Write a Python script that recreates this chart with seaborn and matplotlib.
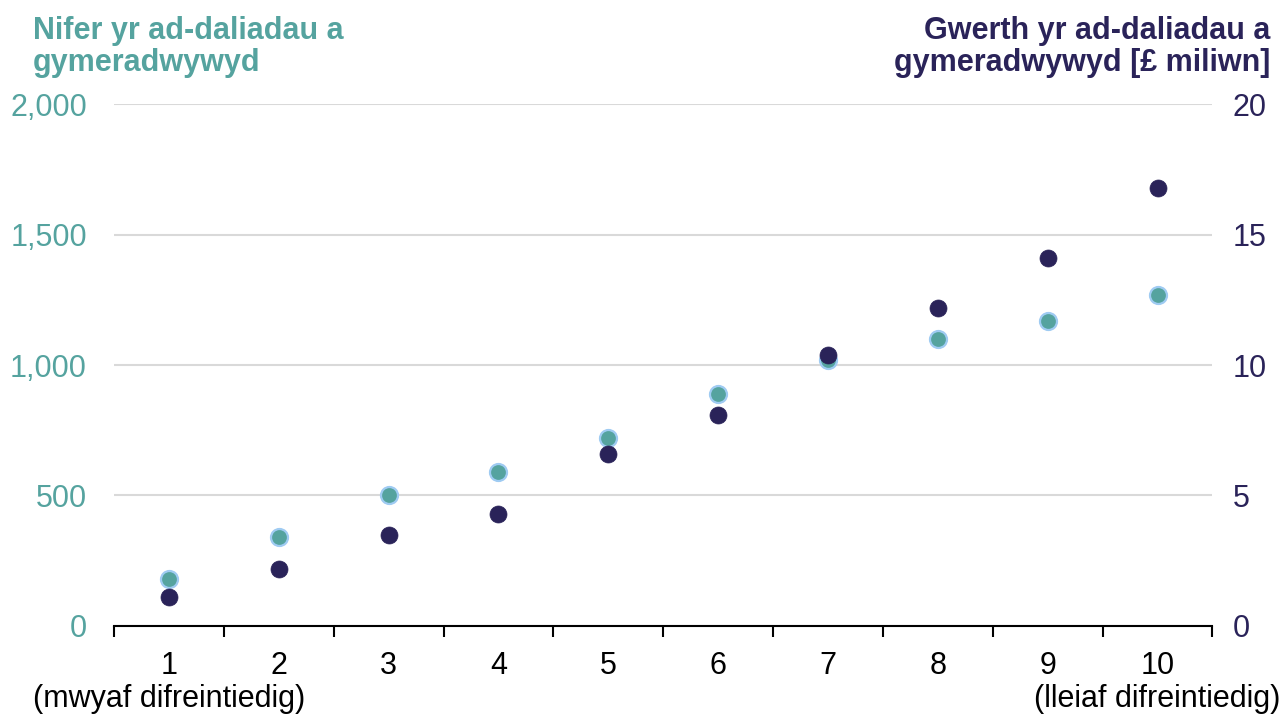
import numpy as np
import pandas as pd
import matplotlib
matplotlib.use("Agg")
import matplotlib.pyplot as plt
import seaborn as sns

# data
deciles = [1, 2, 3, 4, 5, 6, 7, 8, 9, 10]
nifer = [180, 340, 500, 590, 720, 890, 1020, 1100, 1170, 1270]
gwerth = [1.1, 2.2, 3.5, 4.3, 6.6, 8.1, 10.4, 12.2, 14.1, 16.8]
tick_labels = ["1", "2", "3", "4", "5", "6", "7", "8", "9", "10"]
end_notes = {1: "(mwyaf difreintiedig)", 10: "(lleiaf difreintiedig)"}

teal = "#55a39f"
navy = "#2a2359"
edge = "#9fcbf2"

sns.set_theme(style="white")
plt.rcParams["font.family"] = ["Liberation Sans", "DejaVu Sans"]

df = pd.DataFrame({"decile": deciles, "nifer": nifer, "gwerth": gwerth})

fig = plt.figure(figsize=(12.84, 7.15), dpi=100)
ax = fig.add_axes([0.0888, 0.1245, 0.8555, 0.73])
ax2 = ax.twinx()

sns.scatterplot(data=df, x="decile", y="nifer", ax=ax, s=150, color=teal,
                edgecolor=edge, linewidth=1.6, zorder=3)
sns.scatterplot(data=df, x="decile", y="gwerth", ax=ax2, s=150, color=navy,
                edgecolor=navy, linewidth=0.5, zorder=3)

ax.set_xlim(0.5, 10.5)
ax.set_ylim(0, 2000)
ax2.set_ylim(0, 20)
ax.set_yticks([0, 500, 1000, 1500, 2000])
ax.set_yticklabels(["0", "500", "1,000", "1,500", "2,000"])
ax2.set_yticks([0, 5, 10, 15, 20])

ax.set_xticks(deciles)
ax.set_xticklabels(tick_labels)
ax.set_xticks(np.arange(0.5, 11, 1), minor=True)
ax.tick_params(axis="x", which="major", length=0, pad=18, labelsize=22, colors="black")
ax.tick_params(axis="x", which="minor", length=8, width=1.5, direction="out",
               color="black", bottom=True)
ax.tick_params(axis="y", length=0, pad=19.5, labelsize=22, labelcolor=teal)
ax2.tick_params(axis="y", length=0, pad=14.5, labelsize=22, labelcolor=navy)

# second line under the first and last decile
for d, note in end_notes.items():
    ax.annotate(note, xy=(d, 0), xycoords=("data", "axes fraction"),
                xytext=(0, -42), textcoords="offset points", ha="center", va="top",
                fontsize=22, color="black", annotation_clip=False)

ax.grid(axis="y", color="#d9d9d9", linewidth=1.5)
ax.set_axisbelow(True)
for a in (ax, ax2):
    for s in ["left", "right", "top"]:
        a.spines[s].set_visible(False)
    a.set_xlabel("")
    a.set_ylabel("")
ax2.spines["bottom"].set_visible(False)
ax.spines["bottom"].set_color("black")
ax.spines["bottom"].set_linewidth(1.5)

fig.text(33 / 1284, 1 - 16 / 715, "Nifer yr ad-daliadau a\ngymeradwywyd", ha="left",
         va="top", fontsize=22, fontweight="bold", color=teal, linespacing=1.1)
fig.text(1270 / 1284, 1 - 16 / 715, "Gwerth yr ad-daliadau a\ngymeradwywyd [£ miliwn]",
         ha="right", va="top", fontsize=22, fontweight="bold", color=navy,
         linespacing=1.1)

fig.savefig("out.png", dpi=100)
